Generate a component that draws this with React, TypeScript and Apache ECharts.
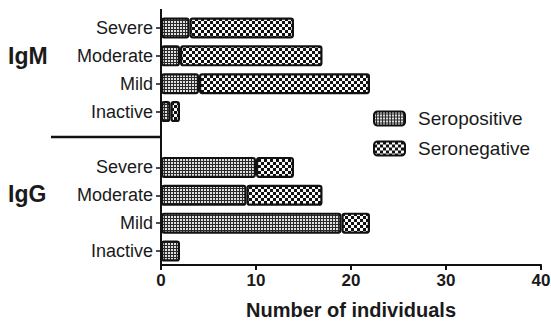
import React, { useEffect, useRef } from "react";
import * as echarts from "echarts";

// Severity levels, bottom to top within each group
const severity = ["Inactive", "Mild", "Moderate", "Severe"];
// IgM group
const igmSeropositive = [1, 4, 2, 3];
const igmSeronegative = [1, 18, 15, 11];
// IgG group
const iggSeropositive = [2, 19, 9, 10];
const iggSeronegative = [0, 3, 8, 4];
const seriesNames = ["Seropositive", "Seronegative"];
const xTicks = { min: 0, max: 40, interval: 10 };

function makePattern(kind: "pos" | "neg") {
  const c = document.createElement("canvas");
  if (kind === "pos") {
    c.width = 3;
    c.height = 3;
    const ctx = c.getContext("2d")!;
    ctx.fillStyle = "#2a2a2a";
    ctx.fillRect(0, 0, 3, 3);
    ctx.fillStyle = "#e0e0e0";
    ctx.fillRect(0, 0, 2, 2);
  } else {
    c.width = 6;
    c.height = 6;
    const ctx = c.getContext("2d")!;
    ctx.fillStyle = "#111";
    ctx.fillRect(0, 0, 6, 6);
    ctx.fillStyle = "#fafafa";
    ctx.fillRect(0, 0, 3, 3);
    ctx.fillRect(3, 3, 3, 3);
  }
  return {
    image: c.toDataURL(),
    repeat: "repeat",
    imageWidth: c.width,
    imageHeight: c.height,
  } as any;
}

export default function App() {
  const ref = useRef<HTMLDivElement>(null);
  useEffect(() => {
    if (!ref.current) return;
    const chart = echarts.init(ref.current, null, { renderer: "svg" });
    const categories = [...severity, "", ...severity];
    const clean = (v: number) => (v === 0 ? null : v);
    const posData = [...iggSeropositive.map(clean), null, ...igmSeropositive.map(clean)];
    const negData = [...iggSeronegative.map(clean), null, ...igmSeronegative.map(clean)];
    const font = "Liberation Sans, Arial, sans-serif";
    const patterns = [makePattern("pos"), makePattern("neg")];
    const dataSets = [posData, negData];

    chart.setOption({
      animation: false,
      textStyle: { fontFamily: font },
      grid: {
        left: 161,
        right: 10,
        top: 14,
        bottom: 57,
        containLabel: false,
        outerBoundsMode: "none",
      },
      legend: {
        orient: "vertical",
        left: 368,
        top: 104,
        itemWidth: 31,
        itemHeight: 14,
        itemGap: 11,
        icon: "roundRect",
        data: seriesNames,
        textStyle: { fontSize: 19, color: "#1a1a1a", fontFamily: font, padding: [0, 0, 0, 8] },
      },
      xAxis: {
        type: "value",
        min: xTicks.min,
        max: xTicks.max,
        interval: xTicks.interval,
        name: "Number of individuals",
        nameLocation: "middle",
        nameGap: 35,
        nameTextStyle: { fontSize: 20, fontWeight: "bold", color: "#1a1a1a" },
        axisLine: { show: true, lineStyle: { color: "#111", width: 2 } },
        axisTick: { show: true, length: 5, lineStyle: { color: "#111", width: 2 } },
        axisLabel: { fontSize: 17, fontWeight: "bold", color: "#1a1a1a", margin: 7 },
        splitLine: { show: false },
      },
      yAxis: {
        type: "category",
        data: categories,
        axisLine: { show: true, onZero: false, lineStyle: { color: "#111", width: 2 } },
        axisTick: {
          show: true,
          alignWithLabel: true,
          length: 5,
          lineStyle: { color: "#111", width: 1.5 },
          interval: (i: number, v: string) => v !== "",
        },
        axisLabel: { fontSize: 18, color: "#1a1a1a", margin: 8 },
      },
      graphic: [
        {
          type: "text",
          left: 8,
          top: 44,
          style: { text: "IgM", font: `bold 23px ${font}`, fill: "#1a1a1a" },
        },
        {
          type: "text",
          left: 8,
          top: 182,
          style: { text: "IgG", font: `bold 23px ${font}`, fill: "#1a1a1a" },
        },
        {
          type: "line",
          shape: { x1: 51, y1: 137, x2: 160, y2: 137 },
          style: { stroke: "#111", lineWidth: 2.5 },
        },
        {
          type: "line",
          shape: { x1: 161, y1: 9, x2: 161, y2: 15 },
          style: { stroke: "#111", lineWidth: 2 },
        },
      ],
      series: seriesNames.map((name, k) => ({
        name,
        type: "bar",
        stack: "total",
        barWidth: 21,
        data: dataSets[k],
        itemStyle: {
          color: patterns[k],
          borderColor: "#111",
          borderWidth: 2.2,
          borderRadius: 2,
        },
      })),
    });
    return () => chart.dispose();
  }, []);
  return (
    <div
      ref={ref}
      style={{ position: "absolute", left: 0, top: 0, width: 551, height: 322 }}
    />
  );
}
